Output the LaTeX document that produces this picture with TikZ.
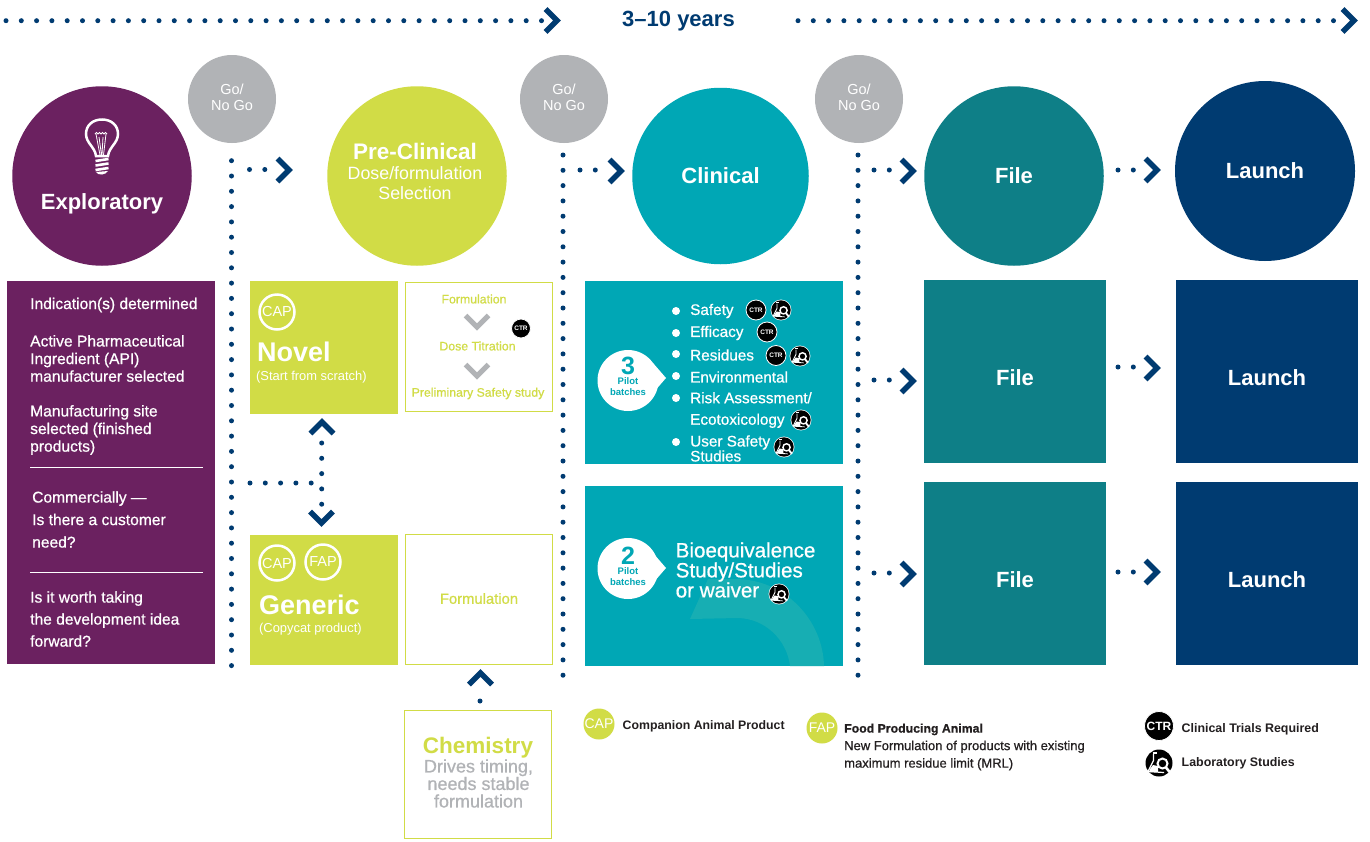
\documentclass[tikz,border=0pt]{standalone}
\usepackage{fontspec}
\setmainfont{Liberation Sans}
\newfontfamily\medf[FakeBold=0.7]{Liberation Sans}
\usetikzlibrary{calc}
\definecolor{navy}{HTML}{003B71}
\definecolor{lime}{HTML}{D1DC46}
\definecolor{teal1}{HTML}{00A7B5}
\definecolor{teal2}{HTML}{0E7F87}
\definecolor{purp}{HTML}{6B2160}
\definecolor{gry}{HTML}{B1B3B6}
\definecolor{ink}{HTML}{231F20}
\definecolor{swoosh}{HTML}{17AEB3}
\newcommand{\fsz}[2]{\fontsize{#1}{#2}\selectfont}
\tikzset{
 bigc/.style={circle,minimum size=179.5pt,inner sep=0pt,text=white,align=center,font=\bfseries\fsz{22}{26}},
 gonogo/.style={circle,fill=gry,minimum size=88pt,inner sep=0pt},
 gotext/.style={inner sep=0pt,text=white,align=center,font=\fsz{14.5}{16}},
 solid box/.style={inner sep=0pt,text=white,align=center,font=\bfseries\fsz{22}{26}},
 dots/.style={navy,line width=5pt,line cap=round,dash pattern=on 0pt off 15.3pt},
 chev/.style={navy,line width=5.6pt,miter limit=10},
 gchev/.style={gry,line width=5pt,miter limit=10},
 lbl/.style={inner sep=0pt,anchor=west,align=left},
 limeout/.style={draw=lime,line width=1.5pt,fill=white},
 ring/.style={circle,draw=white,line width=2.5pt,minimum size=35pt,inner sep=0pt,text=white,font=\fsz{14.5}{16}},
 cfill/.style={circle,fill=lime,minimum size=31pt,inner sep=0pt,text=white,font=\fsz{14}{16}},
 plist/.style={lbl,text=white,font=\medf\fsz{15.6}{17.6}},
 clist/.style={lbl,text=white,font=\medf\fsz{15.3}{17}},
 leg/.style={lbl,text=ink,font=\medf\fsz{13}{17.5}},
 whiterule/.style={white,line width=1pt},
}
\newcommand{\chevR}[2]{\draw[chev] (#1-15.5,#2-11.5) -- (#1-4,#2) -- (#1-15.5,#2+11.5);}
\newcommand{\chevD}[3][chev]{\draw[#1] (#2-11.5,#3-15.5) -- (#2,#3-4) -- (#2+11.5,#3-15.5);}
\newcommand{\chevU}[2]{\draw[chev] (#1-11.5,#2+15.5) -- (#1,#2+4) -- (#1+11.5,#2+15.5);}
\newcommand{\ctricon}[4]{\node[circle,fill=black,draw=white,line width=.8pt,minimum size=#3pt,inner sep=0pt,text=white,font=\bfseries\fsz{#4}{#4}] at (#1,#2) {CTR};}
\newcommand{\labicon}[3]{\begin{scope}[shift={(#1,#2)},scale=#3]
 \fill[white] (0,0) circle (14.5);
 \fill[black] (0,0) circle (13.5);
 \draw[white,line width=#3*1.2pt,line join=round] (-5.5,-9) -- (-5.5,-2.5) -- (-11,8.5) -- (5,9.5);
 \draw[white,line width=#3*1.2pt] (-6.5,-10) -- (-2.5,-10);
 \fill[white] (-9,6) -- (-6,2) -- (-1,3) -- (-1,9) -- (-10,9) -- cycle;
 \draw[white,line width=#3*2pt,fill=black] (3.5,0.5) circle (5);
 \draw[white,line width=#3*2.6pt] (7,4.5) -- (11,9.5);
\end{scope}}
\begin{document}
\begin{tikzpicture}[x=1pt,y=-1pt]
\useasboundingbox (0,0) rectangle (1370,841);
\fill[white] (0,0) rectangle (1370,841);

% timeline
\node[inner sep=0pt,text=navy,font=\bfseries\fsz{22}{24}] (years) at (678.5,21.5) {3–10 years};
\coordinate (t1) at (6,20.7); \coordinate (t2) at (542,20.7);
\coordinate (t3) at (798,20.7); \coordinate (t4) at (1337,20.7);
\draw[dots] (t1) -- (t2); \chevR{561}{20.5}
\draw[dots] (t3) -- (t4); \chevR{1358}{20.5}

% circles
\node[bigc,fill=purp] (expl) at (102,176) {};
\node[inner sep=0pt,text=white,font=\bfseries\fsz{22}{26}] (explt) at (102,203.5) {Exploratory};
\node[bigc,fill=lime] (pre) at (417,176) {};
\node[inner sep=0pt,text=white,align=center,font=\fsz{17.8}{20}] (pret) at (415,171.5) {{\bfseries\fsz{22.5}{22}Pre-Clinical}\\Dose/formulation\\Selection};
\node[bigc,fill=teal1,minimum size=176.5pt] (clin) at (720.5,176) {Clinical};
\node[bigc,fill=teal2] (file) at (1014,176) {File};
\node[bigc,fill=navy,minimum size=180pt] (launch) at (1265,171) {Launch};
\node[gonogo] (g1) at (232,99) {};
\node[gonogo] (g2) at (564,99) {};
\node[gonogo] (g3) at (859,99) {};
\node[gotext] (g1t) at (232,97) {Go/\\No Go};
\node[gotext] (g2t) at (564,97) {Go/\\No Go};
\node[gotext] (g3t) at (859,97) {Go/\\No Go};

% bulb
\begin{scope}[white]
 \draw[line width=2.5pt] (96,156) .. controls (95,147) and (86,143) .. (86,134) .. controls (86,125) and (93,119.5) .. (102,119.5) .. controls (111,119.5) and (118,125) .. (118,134) .. controls (118,143) and (109,147) .. (108,156) -- cycle;
 \draw[line width=.8pt] (95,134) -- (96.5,132.5) -- (98,134) -- (99.5,132.5) -- (101,134) -- (102.5,132.5) -- (104,134) -- (105.5,132.5) -- (107,134);
 \draw[line width=.8pt] (96,134) -- (100,155) (106,134) -- (103.5,155) (99,137) -- (101.5,155) (103,137) -- (102,155);
 \foreach \yy in {160,164.5,169} \draw[line width=2.6pt] (95.5,\yy+1) -- (108.5,\yy-1);
 \fill (96,172) -- (108,171) .. controls (106,175) and (98,176) .. (96,172) -- cycle;
\end{scope}

% dotted structure
\coordinate (v1a) at (231.5,160.7); \coordinate (v1b) at (231.5,667);
\coordinate (v2a) at (563,155); \coordinate (v2b) at (563,676);
\coordinate (v3a) at (858,155); \coordinate (v3b) at (858,676);
\draw[dots] (v1a) -- (v1b);
\draw[dots] (v2a) -- (v2b);
\draw[dots] (v3a) -- (v3b);
\coordinate (h1a) at (249.5,169.5); \coordinate (h1b) at (266,169.5);
\coordinate (h2a) at (580,170); \coordinate (h2b) at (596.5,170);
\coordinate (h3a) at (874,170); \coordinate (h3b) at (890.5,170);
\coordinate (h4a) at (1118,170); \coordinate (h4b) at (1134.5,170);
\draw[dots] (h1a) -- (h1b); \chevR{293}{170}
\draw[dots] (h2a) -- (h2b); \chevR{625}{171}
\draw[dots] (h3a) -- (h3b); \chevR{917}{171}
\draw[dots] (h4a) -- (h4b); \chevR{1161}{170}

% exploratory panel
\node[fill=purp,minimum width=208pt,minimum height=383pt,inner sep=0pt] (panel) at (111,472.5) {};
\node[plist] (p1) at (30,305) {Indication(s) determined};
\node[plist] (p2) at (30,358.5) {Active Pharmaceutical\\Ingredient (API)\\manufacturer selected};
\node[plist] (p3) at (30,430) {Manufacturing site\\selected (finished\\products)};
\node[plist,font=\medf\fsz{15.6}{22.5}] (p4) at (32,519.5) {Commercially —\\Is there a customer\\need?};
\node[plist,font=\medf\fsz{15.6}{22}] (p5) at (30,619) {Is it worth taking\\the development idea\\forward?};
\coordinate (r1a) at (30,467); \coordinate (r1b) at (203,467);
\coordinate (r2a) at (30,572); \coordinate (r2b) at (203,572);
\draw[whiterule] (r1a) -- (r1b);
\draw[whiterule] (r2a) -- (r2b);

% novel / generic
\node[fill=lime,minimum width=148pt,minimum height=133pt,inner sep=0pt] (novel) at (324,347.5) {};
\node[ring] (cap1) at (277,312) {CAP};
\node[lbl,text=white,font=\bfseries\fsz{27}{30}] (novelt) at (257,352) {Novel};
\node[lbl,text=white,font=\fsz{12.9}{14}] (novels) at (256,377) {(Start from scratch)};
\node[fill=lime,minimum width=148pt,minimum height=130pt,inner sep=0pt] (generic) at (324,600) {};
\node[ring] (cap2) at (277,563) {CAP};
\node[ring] (fap2) at (323,562) {FAP};
\node[lbl,text=white,font=\bfseries\fsz{27}{30}] (gent) at (259,605) {Generic};
\node[lbl,text=white,font=\fsz{12.9}{14}] (gens) at (259,629) {(Copycat product)};

% link novel/generic
\coordinate (k1) at (250,483); \coordinate (k2) at (314,483);
\coordinate (k3) at (321.7,443); \coordinate (k4) at (321.7,506);
\draw[dots] (k1) -- (k2);
\draw[dots] (k3) -- (k4);
\chevU{322}{418}
\chevD{321.5}{527}

% formulation boxes
\node[limeout,minimum width=147pt,minimum height=129pt,inner sep=0pt] (fbox) at (479,347) {};
\node[inner sep=0pt,text=lime,font=\medf\fsz{12.3}{14}] (f1) at (474,299) {Formulation};
\node[inner sep=0pt,text=lime,font=\medf\fsz{12.3}{14}] (f2) at (477.5,346) {Dose Titration};
\node[inner sep=0pt,text=lime,font=\medf\fsz{12.3}{14}] (f3) at (478,393.5) {Preliminary Safety study};
\chevD[gchev]{477}{331}
\chevD[gchev]{477}{380}
\ctricon{521}{328.5}{19}{6.5}
\node[limeout,minimum width=147pt,minimum height=130pt,inner sep=0pt] (fbox2) at (479,599.5) {};
\node[inner sep=0pt,text=lime,font=\medf\fsz{14.8}{16}] (fbox2t) at (479,598.5) {Formulation};
\chevU{480.5}{669}
\coordinate (q1) at (480,701); \fill[navy] (q1) circle (2.5);
\node[limeout,minimum width=147pt,minimum height=128pt,inner sep=0pt] (chem) at (478,774.5) {};
\node[inner sep=0pt,text=lime,font=\bfseries\fsz{22.5}{24}] (chemt) at (478,748) {Chemistry};
\node[inner sep=0pt,text=gry,align=center,font=\medf\fsz{18}{17.5}] (chems) at (478.5,783.5) {Drives timing,\\needs stable\\formulation};

% clinical box 1
\node[fill=teal1,minimum width=258pt,minimum height=183pt,inner sep=0pt] (c1) at (714,372.5) {};
\fill[white] (628,380.5) circle (30.5);
\fill[white] (653,363) -- (666,378) -- (653,393) -- cycle;
\node[inner sep=0pt,text=teal1,font=\bfseries\fsz{25}{25}] (b3) at (628,366) {3};
\node[inner sep=0pt,text=teal1,align=center,font=\bfseries\fsz{9.5}{11}] (b3t) at (628,387) {Pilot\\batches};
\foreach \yy in {311,333,354,376,398,442} \fill[white] (676,\yy) circle (4);
\node[clist] (l1) at (690,311) {Safety};
\node[clist] (l2) at (690,333) {Efficacy};
\node[clist] (l3) at (690,355) {Residues};
\node[clist] (l4) at (690,377) {Environmental};
\node[clist] (l5) at (690,410) {Risk Assessment/\\[4.5pt]Ecotoxicology};
\node[clist,font=\medf\fsz{15.3}{15}] (l6) at (690,448.5) {User Safety\\Studies};
\ctricon{756}{310}{20}{6.5}
\labicon{781}{310}{.72}
\ctricon{767}{332}{20}{6.5}
\ctricon{776}{355.5}{20}{6.5}
\labicon{800}{356}{.72}
\labicon{801}{420}{.72}
\labicon{784}{447}{.72}

% clinical box 2
\node[fill=teal1,minimum width=258pt,minimum height=180pt,inner sep=0pt] (c2) at (714,576) {};
\begin{scope}
 \clip (585,486) rectangle (843,666);
 \fill[swoosh] (690,619) -- (708,579) -- (735,579) .. controls (785,579) and (823,620) .. (824,666) -- (790,666) .. controls (787,640) and (765,618) .. (737,618) -- cycle;
\end{scope}
\fill[white] (628,568.5) circle (30.5);
\fill[white] (653,553) -- (666,568) -- (653,583) -- cycle;
\node[inner sep=0pt,text=teal1,font=\bfseries\fsz{25}{25}] (b2) at (628,556) {2};
\node[inner sep=0pt,text=teal1,align=center,font=\bfseries\fsz{9.5}{11}] (b2t) at (628,577) {Pilot\\batches};
\node[lbl,text=white,font=\medf\fsz{20.6}{20}] (bio) at (675.5,570) {Bioequivalence\\Study/Studies\\or waiver};
\labicon{779}{594}{.72}

% file / launch boxes
\node[solid box,fill=teal2,minimum width=182pt,minimum height=183pt] (f21) at (1015,371.5) {};
\node[inner sep=0pt,text=white,font=\bfseries\fsz{22}{26}] (f21t) at (1015,378) {File};
\node[solid box,fill=teal2,minimum width=182pt,minimum height=183pt] (f22) at (1015,573.5) {};
\node[inner sep=0pt,text=white,font=\bfseries\fsz{22}{26}] (f22t) at (1015,580) {File};
\node[solid box,fill=navy,minimum width=182pt,minimum height=183pt] (l21) at (1267,371.5) {};
\node[inner sep=0pt,text=white,font=\bfseries\fsz{22}{26}] (l21t) at (1267,378) {Launch};
\node[solid box,fill=navy,minimum width=182pt,minimum height=183pt] (l22) at (1267,573.5) {};
\node[inner sep=0pt,text=white,font=\bfseries\fsz{22}{26}] (l22t) at (1267,580) {Launch};

\coordinate (m1a) at (874,380); \coordinate (m1b) at (890.5,380);
\coordinate (m2a) at (874,573); \coordinate (m2b) at (890.5,573);
\coordinate (m3a) at (1118,367); \coordinate (m3b) at (1134.5,367);
\coordinate (m4a) at (1118,572); \coordinate (m4b) at (1134.5,572);
\draw[dots] (m1a) -- (m1b); \chevR{917}{381}
\draw[dots] (m2a) -- (m2b); \chevR{917}{574}
\draw[dots] (m3a) -- (m3b); \chevR{1161}{368}
\draw[dots] (m4a) -- (m4b); \chevR{1161}{572}

% legend
\node[cfill] (lcap) at (599,724) {CAP};
\node[leg,font=\bfseries\fsz{12.3}{14}] (lcapt) at (622.5,726.5) {Companion Animal Product};
\node[cfill] (lfap) at (822,728) {FAP};
\node[leg] (lfapt) at (844,747) {{\bfseries\fsz{12.3}{17.5}Food Producing Animal}\\New Formulation of products with existing\\maximum residue limit (MRL)};
\ctricon{1159}{726}{29}{12}
\node[leg,font=\bfseries\fsz{12.4}{14}] (lctrt) at (1181.5,729) {Clinical Trials Required};
\labicon{1159}{763}{1.0}
\node[leg,font=\bfseries\fsz{12.4}{14}] (llabt) at (1181.5,763) {Laboratory Studies};
\end{tikzpicture}
\end{document}
